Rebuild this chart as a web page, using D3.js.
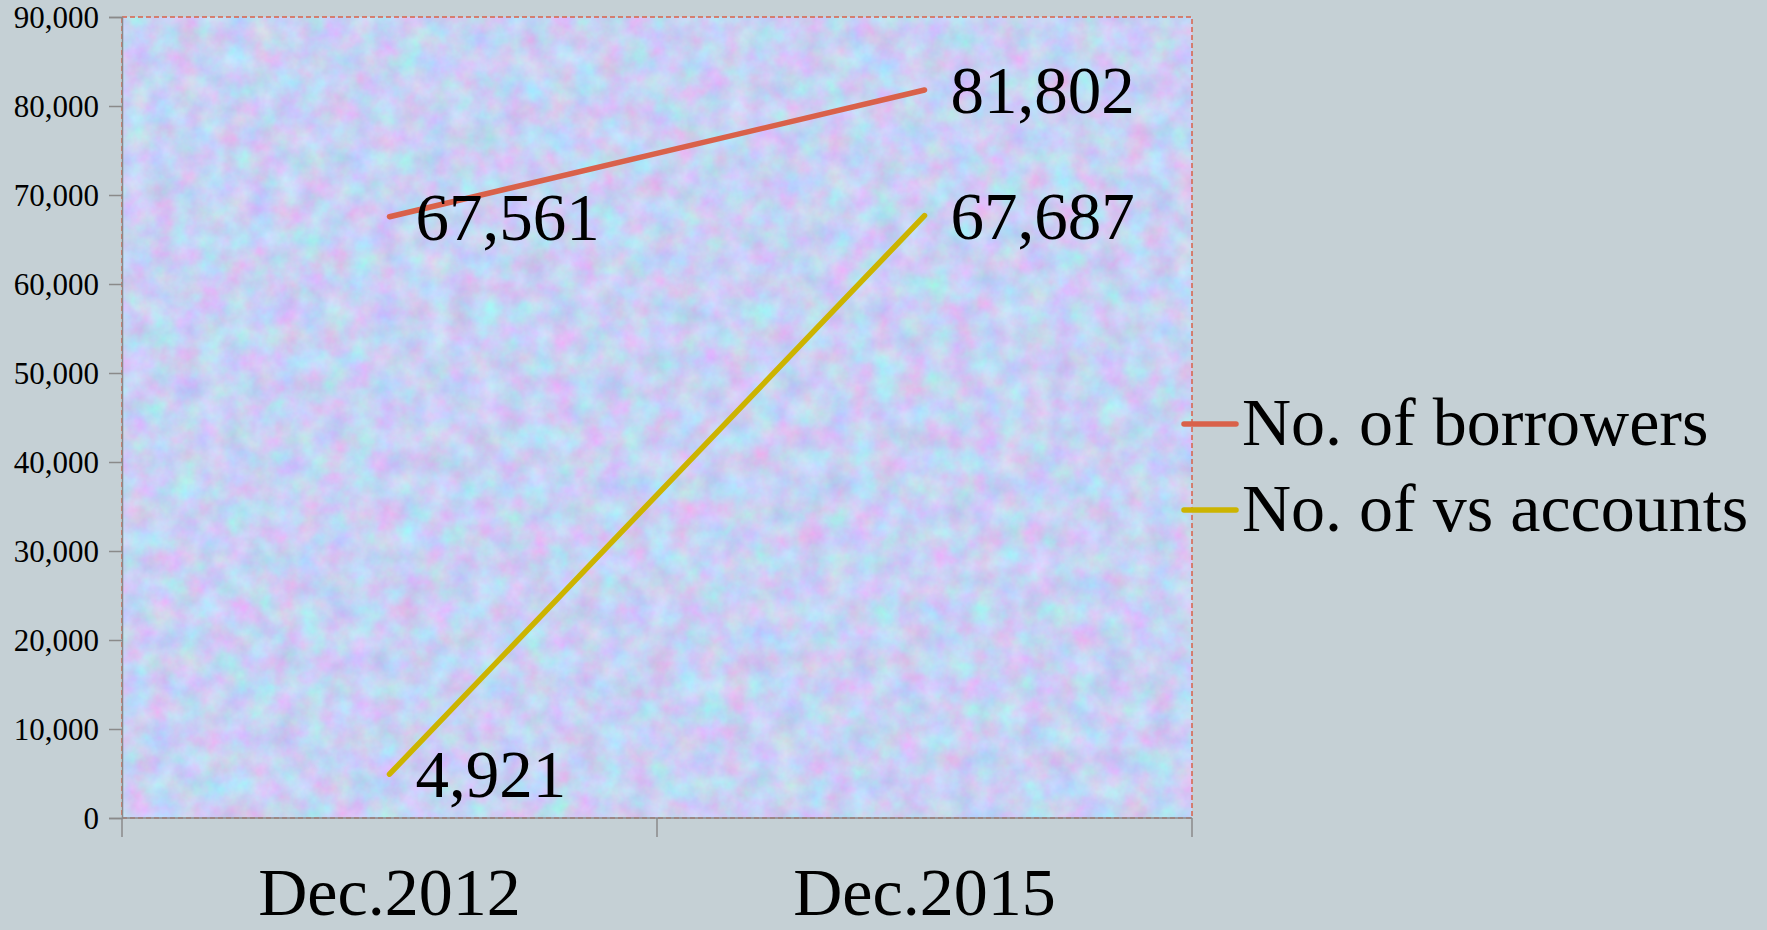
<!DOCTYPE html>
<html>
<head>
<meta charset="utf-8">
<script src="https://cdn.jsdelivr.net/npm/d3@7"></script>
<style>
  html, body { margin: 0; padding: 0; background: #c5d0d5; }
  svg { display: block; }
  text { font-family: "Liberation Serif", "DejaVu Serif", serif; fill: #000; }
</style>
</head>
<body>
<svg id="chart" width="1767" height="930"></svg>
<script>
const categories = ["Dec.2012", "Dec.2015"];
const seriesNames = ["No. of borrowers", "No. of vs accounts"];
const borrowers = [67561, 81802];
const vsAccounts = [4921, 67687];
const yTicks = [0, 10000, 20000, 30000, 40000, 50000, 60000, 70000, 80000, 90000];
const colors = ["#d9614a", "#ccb400"];

const W = 1767, H = 930;
const m = { left: 122, right: 1192, top: 17, bottom: 818 };

const svg = d3.select("#chart");
svg.append("rect").attr("width", W).attr("height", H).attr("fill", "#c5d0d5");

const defs = svg.append("defs");
const f = defs.append("filter").attr("id", "tex").attr("x", 0).attr("y", 0).attr("width", 1).attr("height", 1)
  .attr("filterUnits", "objectBoundingBox").attr("color-interpolation-filters", "sRGB");
f.append("feTurbulence").attr("type", "fractalNoise").attr("baseFrequency", "0.04")
  .attr("numOctaves", 4).attr("seed", 7).attr("result", "n");
f.append("feColorMatrix").attr("in", "n").attr("type", "matrix")
  .attr("values", "0.3 -0.12 0 0 0.69  -0.1 0.28 0 0 0.73  0 0 0.15 0 0.88  0 0 0 0 1");

const x = d3.scaleBand().domain(categories).range([m.left, m.right]).paddingInner(0).paddingOuter(0);
const y = d3.scaleLinear().domain([0, 90000]).range([m.bottom, m.top]);

// plot area with texture
svg.append("rect")
  .attr("x", m.left).attr("y", m.top)
  .attr("width", m.right - m.left).attr("height", m.bottom - m.top)
  .attr("fill", "#c8d3f4").attr("filter", "url(#tex)");
svg.append("rect")
  .attr("x", m.left).attr("y", m.top)
  .attr("width", m.right - m.left).attr("height", m.bottom - m.top)
  .attr("fill", "none").attr("stroke", "#d9614a").attr("stroke-width", 1.5)
  .attr("stroke-dasharray", "5,3");

// y axis
const yAxis = svg.append("g").attr("transform", `translate(${m.left},0)`)
  .call(d3.axisLeft(y).tickValues(yTicks).tickSize(13).tickPadding(10).tickFormat(d3.format(",")));
yAxis.select(".domain").attr("stroke", "#8a8a8a").attr("stroke-width", 1.5);
yAxis.selectAll(".tick line").attr("stroke", "#8a8a8a").attr("stroke-width", 1.5);
yAxis.selectAll(".tick text").style("font-family", "'Liberation Serif', serif")
  .style("font-size", "31px").attr("fill", "#000").attr("dy", "0.35em");

// x axis
svg.append("line").attr("x1", m.left).attr("x2", m.right).attr("y1", m.bottom).attr("y2", m.bottom)
  .attr("stroke", "#8a8a8a").attr("stroke-width", 1.5);
const bounds = categories.map(c => x(c)).concat([x(categories[categories.length - 1]) + x.bandwidth()]);
svg.selectAll(".xtick").data(bounds).join("line")
  .attr("x1", d => d).attr("x2", d => d)
  .attr("y1", m.bottom).attr("y2", m.bottom + 19)
  .attr("stroke", "#8a8a8a").attr("stroke-width", 1.5);
svg.selectAll(".xlab").data(categories).join("text")
  .attr("x", d => x(d) + x.bandwidth() / 2).attr("y", 915)
  .attr("text-anchor", "middle").style("font-size", "68px").text(d => d);

// lines
const series = [borrowers, vsAccounts];
const line = d3.line().x((d, i) => x(categories[i]) + x.bandwidth() / 2).y(d => y(d));
series.forEach((s, k) => {
  svg.append("path").datum(s).attr("d", line)
    .attr("fill", "none").attr("stroke", colors[k]).attr("stroke-width", 5.5)
    .attr("stroke-linecap", "round");
});

// data labels
series.forEach((s, k) => {
  svg.selectAll(".lab" + k).data(s).join("text")
    .attr("x", (d, i) => x(categories[i]) + x.bandwidth() / 2 + 26)
    .attr("y", (d, i) => y(d) + 23)
    .style("font-size", "67px")
    .text(d => d3.format(",")(d));
});

// legend
const legY = [424, 510];
seriesNames.forEach((n, k) => {
  svg.append("line").attr("x1", 1184).attr("x2", 1236).attr("y1", legY[k]).attr("y2", legY[k])
    .attr("stroke", colors[k]).attr("stroke-width", 5.5).attr("stroke-linecap", "round");
  svg.append("text").attr("x", 1242).attr("y", legY[k] + 21)
    .style("font-size", "68px").text(n);
});
</script>
</body>
</html>
